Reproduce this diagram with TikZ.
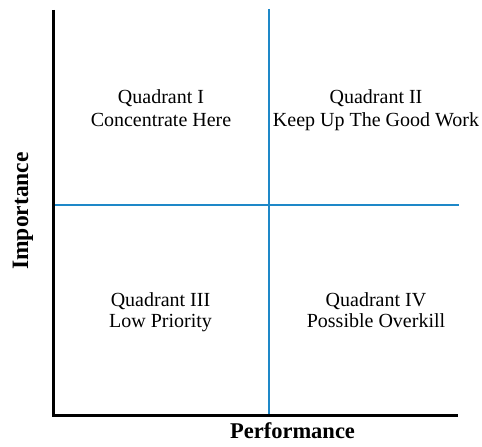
\documentclass[tikz,border=0pt]{standalone}
\usepackage{fontspec}
\setmainfont{Liberation Serif}
\definecolor{gridblue}{RGB}{30,136,200}
\begin{document}
\begin{tikzpicture}[x=1bp,y=-1bp,
  axisline/.style={line width=3bp,black},
  divider/.style={line width=2bp,gridblue},
  qtext/.style={anchor=base,inner sep=0pt,font=\fontsize{20bp}{23bp}\selectfont},
  axislabel/.style={anchor=base,inner sep=0pt,font=\fontsize{22.5bp}{26bp}\selectfont\bfseries}]
  \useasboundingbox (0,0) rectangle (482,447);
  % frame corners
  \coordinate (top) at (53,10);
  \coordinate (origin) at (53,415);
  \coordinate (right) at (458,415);
  % dividing lines
  \coordinate (vtop) at (269,9);
  \coordinate (vbot) at (269,415);
  \coordinate (hleft) at (53,205);
  \coordinate (hright) at (459,205);
  \draw[divider] (vtop) -- (vbot);
  \draw[divider] (hleft) -- (hright);
  % axes
  \draw[axisline] (top) -- (origin) -- (right);
  % quadrant texts
  \node[qtext] (q1a) at (161,104) {Quadrant I};
  \node[qtext] (q1b) at (161,127) {Concentrate Here};
  \node[qtext] (q2a) at (376,103.5) {Quadrant II};
  \node[qtext] (q2b) at (376,127) {Keep Up The Good Work};
  \node[qtext] (q3a) at (160.5,306.5) {Quadrant III};
  \node[qtext] (q3b) at (160.5,327) {Low Priority};
  \node[qtext] (q4a) at (376,306.5) {Quadrant IV};
  \node[qtext] (q4b) at (376,327) {Possible Overkill};
  % axis labels
  \node[axislabel,rotate=90,font=\fontsize{23.5bp}{27bp}\selectfont\bfseries] (ylab) at (28,211) {Importance};
  \node[axislabel] (xlab) at (292.5,438) {Performance};
\end{tikzpicture}
\end{document}
